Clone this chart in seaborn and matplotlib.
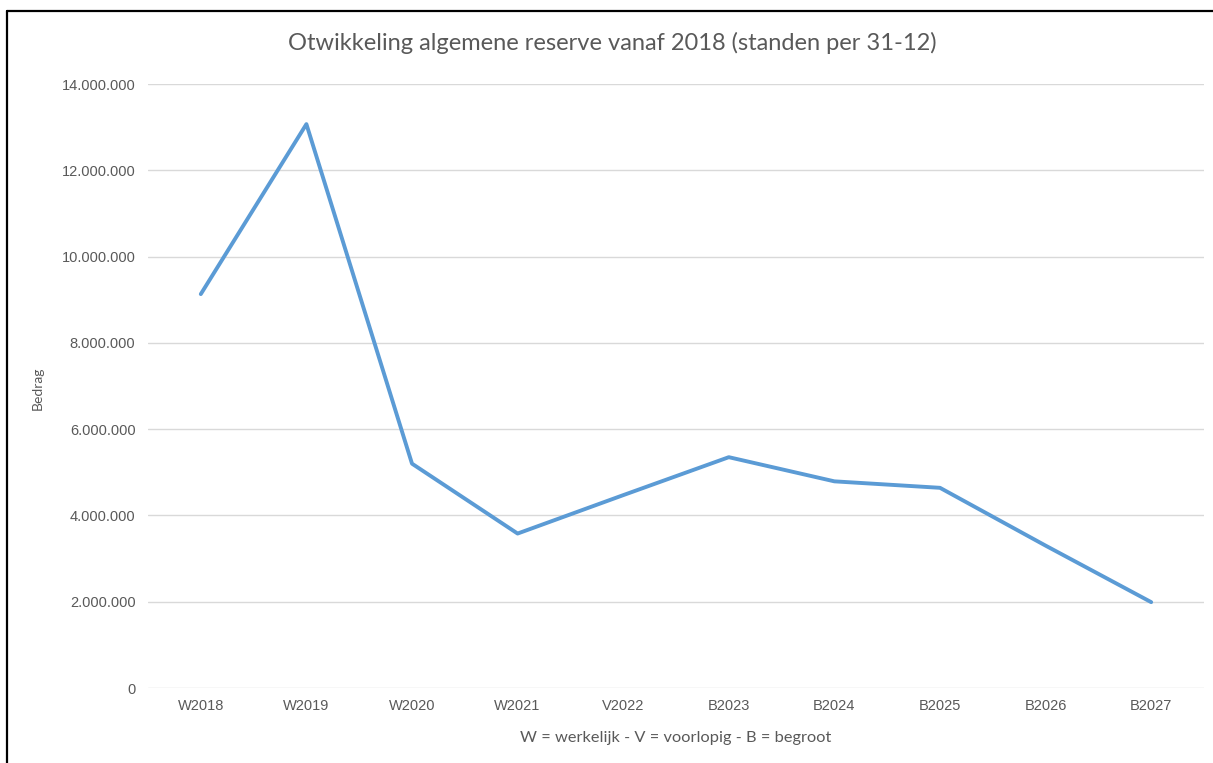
import matplotlib
matplotlib.use("Agg")
import matplotlib.pyplot as plt
import seaborn as sns
import pandas as pd
from matplotlib.ticker import FuncFormatter, MultipleLocator
from matplotlib.lines import Line2D

categories = ["W2018", "W2019", "W2020", "W2021", "V2022", "B2023", "B2024", "B2025", "B2026", "B2027"]
values = [9130000, 13070000, 5200000, 3580000, 4470000, 5350000, 4790000, 4640000, 3300000, 1990000]

title = "Otwikkeling algemene reserve vanaf 2018 (standen per 31-12)"
xlabel = "W = werkelijk - V = voorlopig - B = begroot"
ylabel = "Bedrag"

sns.set_theme(style="white")
plt.rcParams['font.family'] = ['Liberation Sans', 'DejaVu Sans']

df = pd.DataFrame({"cat": categories, "val": values})

W, H = 1213, 763
fig = plt.figure(figsize=(W / 100, H / 100), dpi=100)
ax = fig.add_axes([148 / W, 1 - 688 / H, (1204 - 148) / W, (688 - 84) / H])

ax.set_axisbelow(True)
ax.yaxis.grid(True, color="#D9D9D9", linewidth=1)
ax.xaxis.grid(False)

x = list(range(len(categories)))
sns.lineplot(x=x, y=df["val"], ax=ax, color="#5B9BD5", linewidth=2.8, sort=False)

ax.set_xlim(-0.5, len(categories) - 0.5)
ax.set_ylim(0, 14000000)
ax.yaxis.set_major_locator(MultipleLocator(2000000))
ax.yaxis.set_major_formatter(FuncFormatter(lambda v, p: f"{int(v):,}".replace(",", ".")))
ax.set_xticks(x)
ax.set_xticklabels(categories)
ax.set_xlabel("")
ax.set_ylabel("")

for s in ax.spines.values():
    s.set_visible(False)
ax.tick_params(axis="both", length=0, labelsize=10.5, labelcolor="#595959")
ax.tick_params(axis="y", pad=9)
ax.tick_params(axis="x", pad=8)

fig.text(676 / W, 1 - 738 / H, xlabel, ha="center", va="center", fontsize=11.8,
         color="#595959", family=["Lato", "DejaVu Sans"])
fig.text(38 / W, 1 - 388 / H, ylabel, ha="center", va="center", rotation=90, fontsize=10,
         color="#595959", family=["Lato", "DejaVu Sans"])
fig.text(612 / W, 1 - 43 / H, title, ha="center", va="center", fontsize=17,
         color="#595959", family=["Lato", "DejaVu Sans"])

fig.add_artist(Line2D([7 / W, 1.0], [1 - 11 / H, 1 - 11 / H], transform=fig.transFigure,
                      color="black", linewidth=1.6))
fig.add_artist(Line2D([7 / W, 7 / W], [0.0, 1 - 11 / H], transform=fig.transFigure,
                      color="black", linewidth=1.6))

fig.savefig("out.png", dpi=100)
